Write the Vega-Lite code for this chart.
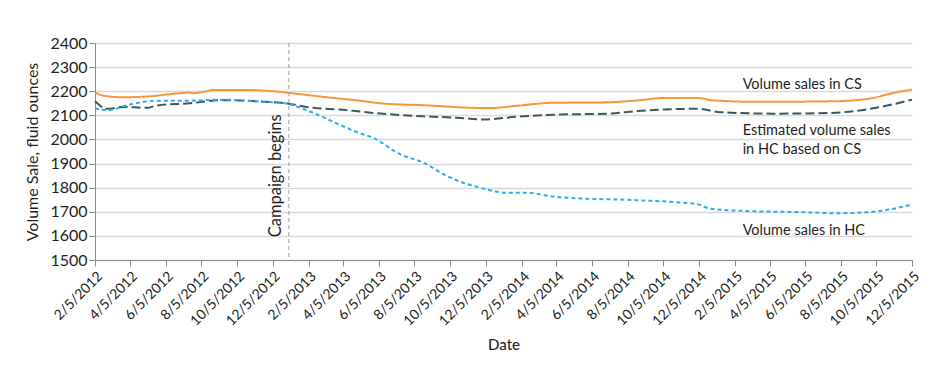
{
  "$schema": "https://vega.github.io/schema/vega-lite/v6.json",
  "width": 817,
  "height": 217,
  "autosize": {"type": "none"},
  "padding": {"left": 95, "top": 43, "right": 29, "bottom": 124},
  "background": "white",
  "config": {
    "font": "Lato",
    "view": {"stroke": null},
    "axis": {"labelColor": "#231f20", "titleColor": "#231f20", "domainColor": "#8a8a8a", "tickColor": "#8a8a8a"}
  },
  "datasets": {
    "sales": [
      {"date": "2012-02-05", "series": "CS", "value": 2195},
      {"date": "2012-02-19", "series": "CS", "value": 2182},
      {"date": "2012-03-24", "series": "CS", "value": 2175},
      {"date": "2012-05-04", "series": "CS", "value": 2178},
      {"date": "2012-06-30", "series": "CS", "value": 2192},
      {"date": "2012-07-17", "series": "CS", "value": 2195},
      {"date": "2012-07-22", "series": "CS", "value": 2192},
      {"date": "2012-08-10", "series": "CS", "value": 2198},
      {"date": "2012-08-25", "series": "CS", "value": 2205},
      {"date": "2012-10-22", "series": "CS", "value": 2205},
      {"date": "2012-12-18", "series": "CS", "value": 2197},
      {"date": "2013-01-02", "series": "CS", "value": 2193},
      {"date": "2013-03-19", "series": "CS", "value": 2172},
      {"date": "2013-04-29", "series": "CS", "value": 2162},
      {"date": "2013-06-12", "series": "CS", "value": 2149},
      {"date": "2013-08-20", "series": "CS", "value": 2142},
      {"date": "2013-11-14", "series": "CS", "value": 2131},
      {"date": "2013-12-13", "series": "CS", "value": 2130},
      {"date": "2014-01-21", "series": "CS", "value": 2138},
      {"date": "2014-03-31", "series": "CS", "value": 2152},
      {"date": "2014-07-01", "series": "CS", "value": 2154},
      {"date": "2014-08-27", "series": "CS", "value": 2163},
      {"date": "2014-10-05", "series": "CS", "value": 2172},
      {"date": "2014-12-03", "series": "CS", "value": 2172},
      {"date": "2014-12-30", "series": "CS", "value": 2162},
      {"date": "2015-03-15", "series": "CS", "value": 2156},
      {"date": "2015-07-18", "series": "CS", "value": 2158},
      {"date": "2015-09-25", "series": "CS", "value": 2170},
      {"date": "2015-10-29", "series": "CS", "value": 2190},
      {"date": "2015-12-05", "series": "CS", "value": 2207},

      {"date": "2012-02-05", "series": "Estimated", "value": 2158},
      {"date": "2012-02-26", "series": "Estimated", "value": 2127},
      {"date": "2012-03-24", "series": "Estimated", "value": 2135},
      {"date": "2012-05-04", "series": "Estimated", "value": 2131},
      {"date": "2012-05-21", "series": "Estimated", "value": 2141},
      {"date": "2012-07-17", "series": "Estimated", "value": 2150},
      {"date": "2012-09-06", "series": "Estimated", "value": 2163},
      {"date": "2012-11-09", "series": "Estimated", "value": 2158},
      {"date": "2012-12-30", "series": "Estimated", "value": 2149},
      {"date": "2013-01-02", "series": "Estimated", "value": 2148},
      {"date": "2013-02-13", "series": "Estimated", "value": 2131},
      {"date": "2013-03-31", "series": "Estimated", "value": 2124},
      {"date": "2013-04-29", "series": "Estimated", "value": 2117},
      {"date": "2013-05-26", "series": "Estimated", "value": 2110},
      {"date": "2013-08-20", "series": "Estimated", "value": 2096},
      {"date": "2013-10-17", "series": "Estimated", "value": 2090},
      {"date": "2013-12-01", "series": "Estimated", "value": 2083},
      {"date": "2014-01-28", "series": "Estimated", "value": 2094},
      {"date": "2014-04-07", "series": "Estimated", "value": 2103},
      {"date": "2014-07-01", "series": "Estimated", "value": 2107},
      {"date": "2014-08-22", "series": "Estimated", "value": 2118},
      {"date": "2014-10-05", "series": "Estimated", "value": 2124},
      {"date": "2014-12-03", "series": "Estimated", "value": 2127},
      {"date": "2015-01-11", "series": "Estimated", "value": 2113},
      {"date": "2015-04-12", "series": "Estimated", "value": 2107},
      {"date": "2015-07-18", "series": "Estimated", "value": 2110},
      {"date": "2015-09-25", "series": "Estimated", "value": 2127},
      {"date": "2015-12-05", "series": "Estimated", "value": 2165},

      {"date": "2012-02-05", "series": "HC", "value": 2128},
      {"date": "2012-02-26", "series": "HC", "value": 2121},
      {"date": "2012-04-05", "series": "HC", "value": 2145},
      {"date": "2012-05-21", "series": "HC", "value": 2161},
      {"date": "2012-07-17", "series": "HC", "value": 2161},
      {"date": "2012-09-06", "series": "HC", "value": 2165},
      {"date": "2012-11-09", "series": "HC", "value": 2158},
      {"date": "2012-12-30", "series": "HC", "value": 2149},
      {"date": "2013-01-02", "series": "HC", "value": 2147},
      {"date": "2013-02-13", "series": "HC", "value": 2110},
      {"date": "2013-03-31", "series": "HC", "value": 2060},
      {"date": "2013-04-29", "series": "HC", "value": 2030},
      {"date": "2013-05-26", "series": "HC", "value": 2007},
      {"date": "2013-07-12", "series": "HC", "value": 1938},
      {"date": "2013-08-20", "series": "HC", "value": 1904},
      {"date": "2013-09-30", "series": "HC", "value": 1848},
      {"date": "2013-12-01", "series": "HC", "value": 1796},
      {"date": "2014-01-11", "series": "HC", "value": 1779},
      {"date": "2014-02-14", "series": "HC", "value": 1779},
      {"date": "2014-03-31", "series": "HC", "value": 1763},
      {"date": "2014-05-16", "series": "HC", "value": 1755},
      {"date": "2014-07-01", "series": "HC", "value": 1752},
      {"date": "2014-08-10", "series": "HC", "value": 1749},
      {"date": "2014-11-03", "series": "HC", "value": 1738},
      {"date": "2014-12-03", "series": "HC", "value": 1731},
      {"date": "2014-12-25", "series": "HC", "value": 1713},
      {"date": "2015-02-26", "series": "HC", "value": 1703},
      {"date": "2015-05-23", "series": "HC", "value": 1699},
      {"date": "2015-07-30", "series": "HC", "value": 1694},
      {"date": "2015-09-13", "series": "HC", "value": 1697},
      {"date": "2015-10-29", "series": "HC", "value": 1710},
      {"date": "2015-12-05", "series": "HC", "value": 1731}
    ],
    "campaign": [
      {"date": "2013-01-02", "value": 1594, "label": "Campaign begins"}
    ],
    "labels": [
      {"date": "2015-02-18", "value": 2256, "label": ["Volume sales in CS"]},
      {"date": "2015-02-18", "value": 2062, "label": ["Estimated volume sales", "in HC based on CS"]},
      {"date": "2015-02-18", "value": 1650, "label": ["Volume sales in HC"]}
    ]
  },
  "encoding": {
    "x": {
      "field": "date",
      "type": "temporal",
      "scale": {"type": "utc", "domain": [{"year": 2012, "month": 2, "date": 5, "utc": true}, {"year": 2015, "month": 12, "date": 5, "utc": true}]},
      "axis": {
        "title": "Date",
        "titleFontSize": 15,
        "titleFontWeight": 500,
        "titlePadding": 9,
        "format": "%-m/%-d/%Y",
        "labelAngle": -45,
        "labelFontSize": 14,
        "labelPadding": 3,
        "tickSize": 6,
        "labelOverlap": false,
        "labelFlush": false,
        "grid": false,
        "values": [
          {"year": 2012, "month": 2, "date": 5, "utc": true},
          {"year": 2012, "month": 4, "date": 5, "utc": true},
          {"year": 2012, "month": 6, "date": 5, "utc": true},
          {"year": 2012, "month": 8, "date": 5, "utc": true},
          {"year": 2012, "month": 10, "date": 5, "utc": true},
          {"year": 2012, "month": 12, "date": 5, "utc": true},
          {"year": 2013, "month": 2, "date": 5, "utc": true},
          {"year": 2013, "month": 4, "date": 5, "utc": true},
          {"year": 2013, "month": 6, "date": 5, "utc": true},
          {"year": 2013, "month": 8, "date": 5, "utc": true},
          {"year": 2013, "month": 10, "date": 5, "utc": true},
          {"year": 2013, "month": 12, "date": 5, "utc": true},
          {"year": 2014, "month": 2, "date": 5, "utc": true},
          {"year": 2014, "month": 4, "date": 5, "utc": true},
          {"year": 2014, "month": 6, "date": 5, "utc": true},
          {"year": 2014, "month": 8, "date": 5, "utc": true},
          {"year": 2014, "month": 10, "date": 5, "utc": true},
          {"year": 2014, "month": 12, "date": 5, "utc": true},
          {"year": 2015, "month": 2, "date": 5, "utc": true},
          {"year": 2015, "month": 4, "date": 5, "utc": true},
          {"year": 2015, "month": 6, "date": 5, "utc": true},
          {"year": 2015, "month": 8, "date": 5, "utc": true},
          {"year": 2015, "month": 10, "date": 5, "utc": true},
          {"year": 2015, "month": 12, "date": 5, "utc": true}
        ]
      }
    },
    "y": {
      "field": "value",
      "type": "quantitative",
      "scale": {"domain": [1500, 2400], "nice": false, "zero": false},
      "axis": {
        "title": "Volume Sale, fluid ounces",
        "titleFontSize": 16,
        "titleFontWeight": "normal",
        "titlePadding": 9,
        "format": "d",
        "values": [1500, 1600, 1700, 1800, 1900, 2000, 2100, 2200, 2300, 2400],
        "labelFontSize": 16,
        "labelPadding": 2,
        "tickSize": 6,
        "grid": true,
        "gridColor": "#d9d9d9",
        "gridWidth": 1.5
      }
    }
  },
  "layer": [
    {
      "data": {"name": "sales"},
      "mark": {"type": "line", "strokeWidth": 2, "interpolate": "monotone"},
      "encoding": {
        "color": {"field": "series", "type": "nominal", "legend": null,
          "scale": {"domain": ["CS", "Estimated", "HC"], "range": ["#f7963a", "#3a5863", "#2eaee8"]}},
        "strokeDash": {"field": "series", "type": "nominal", "legend": null,
          "scale": {"domain": ["CS", "Estimated", "HC"], "range": [[1, 0], [9, 4], [4, 3]]}}
      }
    },
    {
      "data": {"name": "campaign"},
      "mark": {"type": "rule", "color": "#9a9a9a", "strokeWidth": 1, "strokeDash": [4, 3]},
      "encoding": {"y": null}
    },
    {
      "data": {"name": "campaign"},
      "mark": {"type": "text", "angle": 270, "align": "left", "baseline": "bottom", "dy": -5, "fontSize": 16.5, "color": "#231f20"},
      "encoding": {"text": {"field": "label"}}
    },
    {
      "data": {"name": "labels"},
      "mark": {"type": "text", "align": "left", "baseline": "top", "fontSize": 14.5, "lineHeight": 19, "color": "#231f20"},
      "encoding": {"text": {"field": "label"}}
    }
  ]
}
